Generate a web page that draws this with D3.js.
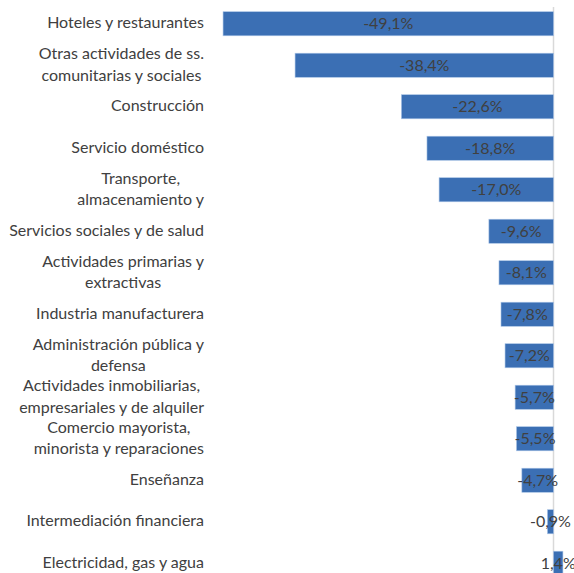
<!DOCTYPE html>
<html>
<head>
<meta charset="utf-8">
<script src="https://cdn.jsdelivr.net/npm/d3@7"></script>
<style>
  body { margin: 0; background: #fff; }
  svg text { font-family: Lato, "Open Sans", sans-serif; fill: #404040; }
</style>
</head>
<body>
<svg width="574" height="573"></svg>
<script>
var categories = [
  "Hoteles y restaurantes",
  "Otras actividades de ss. comunitarias y sociales",
  "Construcción",
  "Servicio doméstico",
  "Transporte, almacenamiento y comunicaciones",
  "Servicios sociales y de salud",
  "Actividades primarias y extractivas",
  "Industria manufacturera",
  "Administración pública y defensa",
  "Actividades inmobiliarias, empresariales y de alquiler",
  "Comercio mayorista, minorista y reparaciones",
  "Enseñanza",
  "Intermediación financiera",
  "Electricidad, gas y agua"
];

// wrapped label lines as shown in the chart
var labelLines = [
  ["Hoteles y restaurantes"],
  ["Otras actividades de ss.", "comunitarias y sociales"],
  ["Construcción"],
  ["Servicio doméstico"],
  ["Transporte,", "almacenamiento y"],
  ["Servicios sociales y de salud"],
  ["Actividades primarias y", "extractivas"],
  ["Industria manufacturera"],
  ["Administración pública y", "defensa"],
  ["Actividades inmobiliarias,", "empresariales y de alquiler"],
  ["Comercio mayorista,", "minorista y reparaciones"],
  ["Enseñanza"],
  ["Intermediación financiera"],
  ["Electricidad, gas y agua"]
];

var values = [-49.1, -38.4, -22.6, -18.8, -17.0, -9.6, -8.1, -7.8, -7.2, -5.7, -5.5, -4.7, -0.9, 1.4];

var svg = d3.select("svg");

var x = d3.scaleLinear()
    .domain([-50, 0])
    .range([217, 553.5]);

var y = d3.scaleBand()
    .domain(categories)
    .range([3, 584])
    .paddingInner(0.42)
    .paddingOuter(0.21);

var fmt = function(v) { return d3.format(".1f")(v).replace(".", ",").replace("−", "-") + "%"; };

var data = categories.map(function(c, i) {
    return {name: c, value: values[i], lines: labelLines[i]};
});

// zero line
svg.append("line")
    .attr("x1", x(0)).attr("x2", x(0))
    .attr("y1", 7).attr("y2", 573)
    .attr("stroke", "#d9d9d9")
    .attr("stroke-width", 1.5);

svg.append("g")
    .selectAll("rect")
    .data(data)
    .enter().append("rect")
    .attr("x", function(d) { return x(Math.min(0, d.value)); })
    .attr("y", function(d) { return y(d.name); })
    .attr("width", function(d) { return Math.abs(x(d.value) - x(0)); })
    .attr("height", y.bandwidth())
    .attr("fill", "#3b6fb4")
    .attr("stroke", "#a8c3e6")
    .attr("stroke-width", 0.6);

svg.append("g")
    .selectAll("text")
    .data(data)
    .enter().append("text")
    .attr("x", function(d) { return (x(d.value) + x(0)) / 2; })
    .attr("y", function(d) { return y(d.name) + y.bandwidth() / 2; })
    .attr("dy", "0.35em")
    .attr("text-anchor", "middle")
    .attr("font-size", 16)
    .text(function(d) { return fmt(d.value); });

var labels = svg.append("g")
    .selectAll("text")
    .data(data)
    .enter().append("text")
    .attr("text-anchor", "end")
    .attr("font-size", 16)
    .attr("transform", function(d) { return "translate(204," + (y(d.name) + y.bandwidth() / 2 - 1) + ")"; });

labels.each(function(d) {
    var t = d3.select(this), n = d.lines.length;
    d.lines.forEach(function(line, i) {
        t.append("tspan")
            .attr("x", 0)
            .attr("y", (i - (n - 1) / 2) * 21.5)
            .attr("dy", "0.35em")
            .text(line);
    });
});

// multi-line labels are centred against their longest line
labels.each(function(d) {
    if (d.lines.length < 2) return;
    var spans = d3.select(this).selectAll("tspan").nodes();
    var maxW = d3.max(spans, function(s) { return s.getComputedTextLength(); });
    spans.forEach(function(s) {
        d3.select(s).attr("text-anchor", "middle").attr("x", -maxW / 2);
    });
});
</script>
</body>
</html>
